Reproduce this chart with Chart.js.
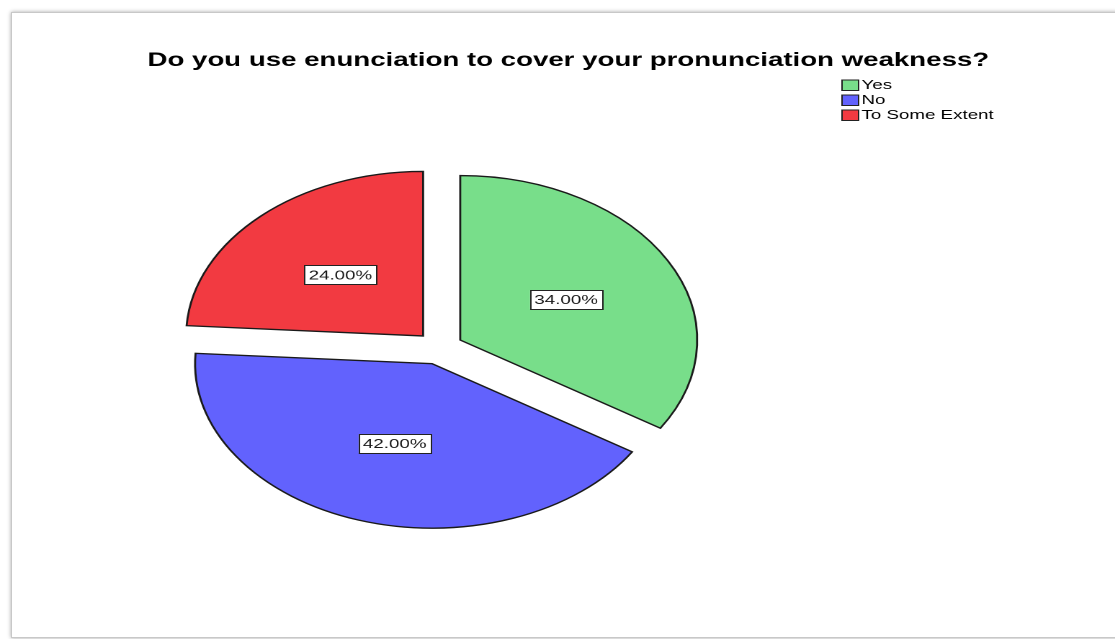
<!DOCTYPE html>
<html>
<head>
<meta charset="utf-8">
<title>Enunciation survey</title>
<script src="https://cdn.jsdelivr.net/npm/chart.js@4/dist/chart.umd.min.js"></script>
<style>
  html, body { margin: 0; padding: 0; background: #fff; }
  body { width: 1115px; height: 639px; overflow: hidden; position: relative; }
  #frame {
    position: absolute; left: 11px; top: 12px; width: 1120px; height: 624px;
    border: 1px solid #c8c8c8; box-shadow: 0 0 4px rgba(0,0,0,0.35); background: #fff;
  }
  #wrap {
    position: absolute; left: 0; top: 0; width: 774px; height: 639px;
    transform: scaleX(1.4406); transform-origin: 0 0;
  }
</style>
</head>
<body>
<div id="frame"></div>
<div id="wrap"><canvas id="c" width="774" height="639"></canvas></div>
<script>
// Survey answers and their shares (percent of respondents)
const chartTitle = 'Do you use enunciation to cover your pronunciation weakness?';
const categories = ['Yes', 'No', 'To Some Extent'];
const percentages = [34, 42, 24];
const sliceColors = ['#78de8a', '#6262fd', '#f23a41'];

// Exploded pie distance and label placement
const EXPLODE = 16.5;
const LABEL_RATIO = 0.51;
const FONT = '"Liberation Sans", Arial, sans-serif';

const pieExtras = {
  id: 'pieExtras',
  beforeDatasetsDraw(chart) {
    // draw each slice pushed out along its middle angle
    const ctx = chart.ctx;
    const meta = chart.getDatasetMeta(0);
    meta.data.forEach(arc => {
      const mid = (arc.startAngle + arc.endAngle) / 2;
      ctx.save();
      ctx.translate(Math.cos(mid) * EXPLODE, Math.sin(mid) * EXPLODE);
      arc.draw(ctx, chart.chartArea);
      ctx.restore();
    });
    return false;
  },
  afterDraw(chart) {
    const ctx = chart.ctx;
    const meta = chart.getDatasetMeta(0);

    // value labels in boxed tags
    ctx.save();
    ctx.font = '13px ' + FONT;
    ctx.textAlign = 'center';
    ctx.textBaseline = 'middle';
    meta.data.forEach((arc, i) => {
      const mid = (arc.startAngle + arc.endAngle) / 2;
      const dist = EXPLODE + arc.outerRadius * LABEL_RATIO;
      const x = arc.x + Math.cos(mid) * dist;
      const y = arc.y + Math.sin(mid) * dist;
      const txt = percentages[i].toFixed(2) + '%';
      const w = ctx.measureText(txt).width + 6;
      const h = 19;
      ctx.fillStyle = '#fff';
      ctx.fillRect(x - w / 2, y - h / 2, w, h);
      ctx.strokeStyle = '#222';
      ctx.lineWidth = 1;
      ctx.strokeRect(Math.round(x - w / 2) + 0.5, Math.round(y - h / 2) + 0.5, Math.round(w), h);
      ctx.fillStyle = '#1a1a1a';
      ctx.fillText(txt, x, y + 1);
    });
    ctx.restore();

    // title
    ctx.save();
    ctx.font = 'bold 19.2px ' + FONT;
    ctx.fillStyle = '#000';
    ctx.textAlign = 'center';
    ctx.textBaseline = 'alphabetic';
    ctx.fillText(chartTitle, 394.5, 66);
    ctx.restore();

    // legend
    ctx.save();
    ctx.font = '13px ' + FONT;
    ctx.textAlign = 'left';
    ctx.textBaseline = 'middle';
    categories.forEach((name, i) => {
      const cy = 85 + i * 15;
      ctx.fillStyle = sliceColors[i];
      ctx.fillRect(584, cy - 5.5, 12, 11);
      ctx.strokeStyle = '#222';
      ctx.lineWidth = 1;
      ctx.strokeRect(584.5, cy - 5, 11.5, 10.5);
      ctx.fillStyle = '#000';
      ctx.fillText(name, 598, cy + 0.5);
    });
    ctx.restore();
  }
};

new Chart(document.getElementById('c'), {
  type: 'pie',
  data: {
    labels: categories,
    datasets: [{
      data: percentages,
      backgroundColor: sliceColors,
      borderColor: '#1a1a1a',
      borderWidth: 1.4,
      borderJoinStyle: 'miter',
      borderAlign: 'center'
    }]
  },
  options: {
    responsive: false,
    animation: false,
    devicePixelRatio: 2,
    radius: 164.5,
    layout: { padding: { left: 0, right: 164, top: 57, bottom: 0 } },
    plugins: {
      legend: { display: false },
      title: { display: false },
      tooltip: { enabled: false }
    },
    events: []
  },
  plugins: [pieExtras]
});
</script>
</body>
</html>
